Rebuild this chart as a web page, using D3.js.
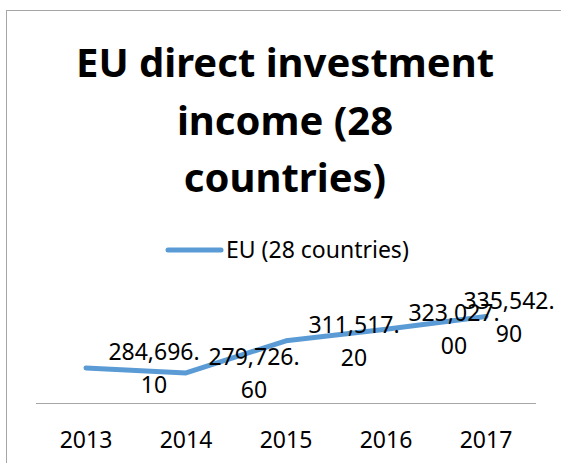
<!DOCTYPE html>
<html>
  <head>
    <script
      src="https://cdnjs.cloudflare.com/ajax/libs/d3/7.8.5/d3.min.js"
      type="text/JavaScript"
    ></script>
    <style>
      body {
        margin: 0;
        background: #fff;
      }
      text {
        font-family: "Noto Sans", "Open Sans", sans-serif;
        fill: #000;
      }
      text.title {
        font-weight: bold;
        font-size: 40px;
      }
      text.legend,
      text.label,
      text.tick {
        font-size: 23px;
      }
      path.series {
        fill: none;
        stroke: #5b9bd5;
        stroke-width: 5;
        stroke-linejoin: round;
        stroke-linecap: round;
      }
    </style>
  </head>
  <body>
    <svg style="width: 561px; height: 463px"></svg>
    <script>
      var years = ["2013", "2014", "2015", "2016", "2017"];
      var values = [284696.1, 279726.6, 311517.2, 323027.0, 335542.9];
      var titleLines = ["EU direct investment", "income (28", "countries)"];
      var seriesName = "EU (28 countries)";

      var svg = d3.select("svg");

      // chart border (right and bottom edges are cut off in the picture)
      svg.append("rect")
        .attr("x", 6.5)
        .attr("y", 10.5)
        .attr("width", 600)
        .attr("height", 500)
        .style("fill", "none")
        .style("stroke", "#a6a6a6");

      svg.selectAll("text.title")
        .data(titleLines)
        .enter()
        .append("text")
        .attr("class", "title")
        .attr("x", 285)
        .attr("y", (d, i) => [77, 135, 192][i])
        .attr("text-anchor", "middle")
        .text(d => d);

      // legend
      svg.append("line")
        .attr("x1", 168).attr("x2", 221)
        .attr("y1", 250).attr("y2", 250)
        .style("stroke", "#5b9bd5")
        .style("stroke-width", 5)
        .style("stroke-linecap", "round");
      svg.append("text")
        .attr("class", "legend")
        .attr("x", 226)
        .attr("y", 258)
        .text(seriesName);

      var x = d3.scaleBand().domain(years).range([36, 536]);
      var y = d3.scaleLinear().domain([250000, 340000]).range([403, 312]);

      var line = d3.line()
        .x((d, i) => x(years[i]) + x.bandwidth() / 2)
        .y(d => y(d));

      svg.append("path")
        .datum(values)
        .attr("class", "series")
        .attr("d", line);

      // x axis line and category labels
      svg.append("line")
        .attr("x1", x.range()[0]).attr("x2", x.range()[1])
        .attr("y1", 403.5).attr("y2", 403.5)
        .style("stroke", "#a6a6a6")
        .style("stroke-width", 1);

      svg.selectAll("text.tick")
        .data(years)
        .enter()
        .append("text")
        .attr("class", "tick")
        .attr("x", d => x(d) + x.bandwidth() / 2)
        .attr("y", 448)
        .attr("text-anchor", "middle")
        .text(d => d);

      // data labels, wrapped after the decimal point like Excel does
      var fmt = d3.format(",.2f");
      var labels = svg.selectAll("g.label")
        .data(values)
        .enter()
        .append("g")
        .attr("class", "label")
        .attr("transform", (d, i) => {
          var cx = Math.min(x(years[i]) + x.bandwidth() / 2 + 68, 509);
          return "translate(" + cx + "," + y(d) + ")";
        });

      labels.selectAll("text")
        .data(d => {
          var s = fmt(d);
          var k = s.indexOf(".") + 1;
          return [s.slice(0, k), s.slice(k)];
        })
        .enter()
        .append("text")
        .attr("class", "label")
        .attr("text-anchor", "middle")
        .attr("y", (d, i) => (i === 0 ? -8 : 25))
        .text(d => d);
    </script>
  </body>
</html>
